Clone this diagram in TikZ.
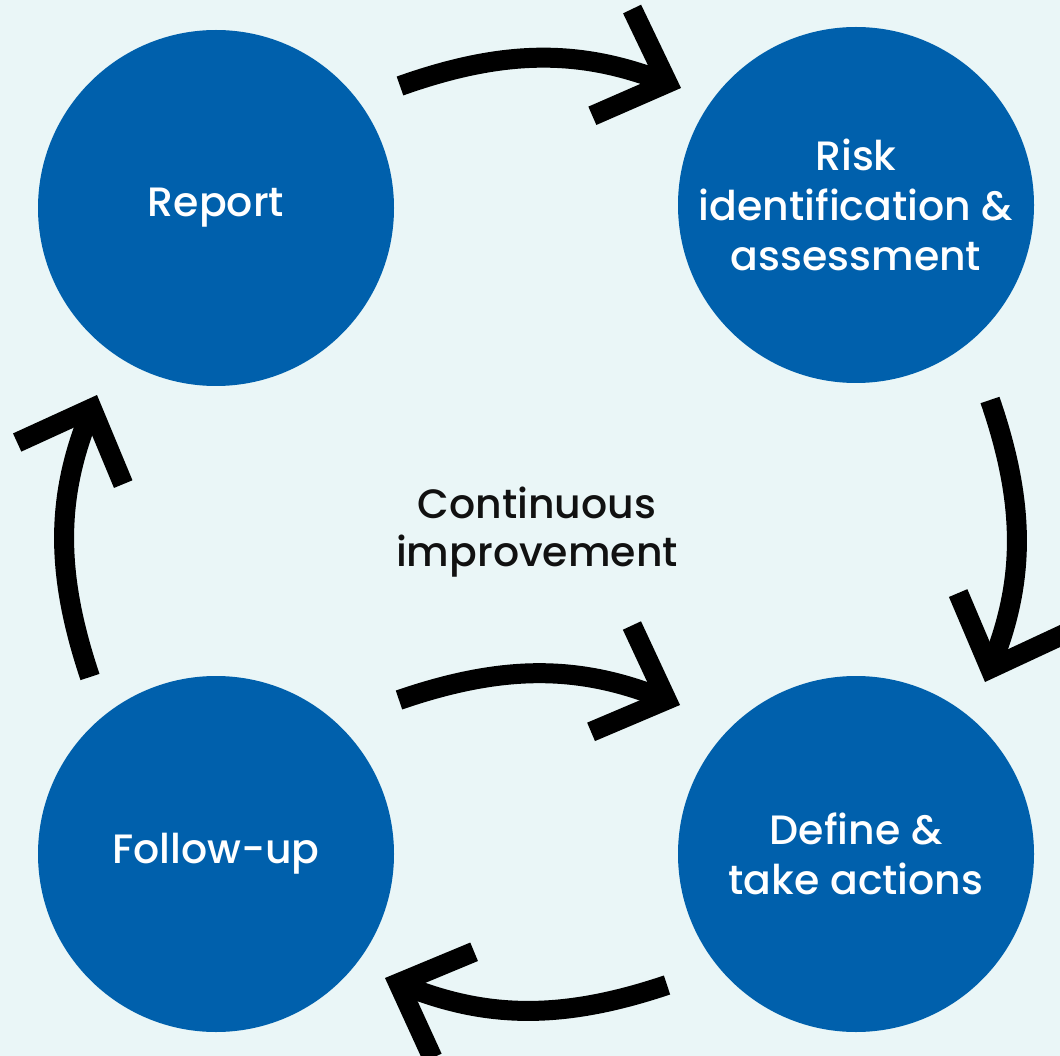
\documentclass[tikz,border=0pt]{standalone}
\usepackage{fontspec}
\setmainfont{Poppins}[UprightFont=* Medium]
\usetikzlibrary{arrows.meta}
\definecolor{bg}{HTML}{EAF6F7}
\definecolor{disc}{HTML}{0060AC}
\definecolor{ink}{HTML}{111111}
\begin{document}
\begin{tikzpicture}[x=1pt,y=-1pt,
  stage/.style={circle, fill=disc, minimum size=356pt, inner sep=0pt,
    text=white, align=center, font=\fontsize{41}{50}\selectfont},
  caption/.style={text=ink, align=center, font=\fontsize{41}{48}\selectfont},
  flow/.style={draw=black, line width=20pt,
    -{Straight Barb[angle=88:82pt]}, bend left=20}
]
% canvas
\useasboundingbox (0,0) rectangle (1060,1056);
\clip (0,0) rectangle (1060,1056);
\fill[bg] (0,0) rectangle (1060,1056);

% the four stages
\node[stage] (report) at (216,208) {Report};
\node[stage] (risk)   at (856,205) {Risk\\identification \&\\assessment};
\node[stage] (define) at (856,854) {Define \&\\take actions};
\node[stage] (follow) at (216,854) {Follow-up};

% centre caption
\node[caption] (cont) at (537,532) {Continuous\\improvement};

% arrow end points between the stages
\coordinate (topS) at (400,86);   \coordinate (topE) at (681,88);
\coordinate (midS) at (399,700);  \coordinate (midE) at (680,705);
\coordinate (botS) at (667,985);  \coordinate (botE) at (385,978);
\coordinate (rgtS) at (990,400);  \coordinate (rgtE) at (985,682);
\coordinate (lftS) at (90,677);   \coordinate (lftE) at (97,395);

\draw[flow] (topS) to (topE);
\draw[flow] (midS) to (midE);
\draw[flow] (botS) to (botE);
\draw[flow] (rgtS) to (rgtE);
\draw[flow] (lftS) to (lftE);
\end{tikzpicture}
\end{document}
